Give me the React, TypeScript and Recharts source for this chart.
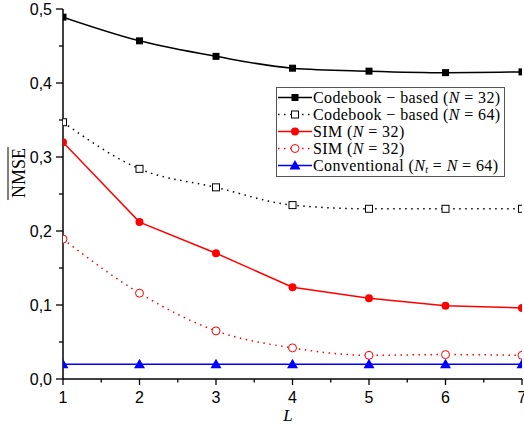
import { Label, Legend, Line, LineChart, XAxis, YAxis } from "recharts";

const L_VALUES = [1, 2, 3, 4, 5, 6, 7];
const codebook32 = [0.489, 0.457, 0.436, 0.42, 0.416, 0.414, 0.415];
const codebook64 = [0.347, 0.284, 0.259, 0.235, 0.23, 0.23, 0.23];
const sim32 = [0.32, 0.212, 0.17, 0.124, 0.109, 0.099, 0.096];
const sim32Dotted = [0.189, 0.116, 0.065, 0.042, 0.032, 0.033, 0.032];
const conventional = [0.02, 0.02, 0.02, 0.02, 0.02, 0.02, 0.02];

const xTicks = [1, 1.5, 2, 2.5, 3, 3.5, 4, 4.5, 5, 5.5, 6, 6.5, 7];
const yTicks = [0, 0.05, 0.1, 0.15, 0.2, 0.25, 0.3, 0.35, 0.4, 0.45, 0.5];

const data = L_VALUES.map((l, i) => ({
  L: l,
  cb32: codebook32[i],
  cb64: codebook64[i],
  sim: sim32[i],
  simDot: sim32Dotted[i],
  conv: conventional[i],
}));

const TICK_FONT = "Arial, 'Liberation Sans', sans-serif";
const SERIF = "'Liberation Serif', 'DejaVu Serif', serif";

const isMajorY = (v: number) => Math.abs(v * 10 - Math.round(v * 10)) < 1e-6;
const fmtY = (v: number) => v.toFixed(1).replace(".", ",");

const LeftTick = (props: any) => {
  const { x, y, payload } = props;
  const axisX = x + 11;
  const major = isMajorY(payload.value);
  return (
    <g>
      <line x1={axisX - (major ? 7 : 4)} x2={axisX} y1={y} y2={y} stroke="#000" strokeWidth={1.3} />
      {major && (
        <text x={x} y={y} dy={5.5} textAnchor="end" fontSize={16} fontFamily={TICK_FONT} fill="#000">
          {fmtY(payload.value)}
        </text>
      )}
    </g>
  );
};

const RightTick = (props: any) => {
  const { x, y, payload } = props;
  const axisX = x + 7;
  const major = isMajorY(payload.value);
  return <line x1={axisX - (major ? 7 : 4)} x2={axisX} y1={y} y2={y} stroke="#000" strokeWidth={1.3} />;
};

const BottomTick = (props: any) => {
  const { x, y, payload } = props;
  const axisY = y - 9;
  const major = Number.isInteger(payload.value);
  return (
    <g>
      <line x1={x} x2={x} y1={axisY} y2={axisY + (major ? 6 : 3.5)} stroke="#000" strokeWidth={1.3} />
      {major && (
        <text x={x} y={axisY + 24} textAnchor="middle" fontSize={16} fontFamily={TICK_FONT} fill="#000">
          {payload.value}
        </text>
      )}
    </g>
  );
};

const TopTick = (props: any) => {
  const { x, y, payload } = props;
  const axisY = y - 6;
  const major = Number.isInteger(payload.value);
  return <line x1={x} x2={x} y1={axisY} y2={axisY + (major ? 6 : 3.5)} stroke="#000" strokeWidth={1.3} />;
};

const FilledSquare = ({ cx, cy, color }: any) => (
  <rect x={cx - 3.5} y={cy - 3.5} width={7} height={7} fill={color} />
);
const OpenSquare = ({ cx, cy, color }: any) => (
  <rect x={cx - 3.5} y={cy - 3.5} width={7} height={7} fill="#fff" stroke={color} strokeWidth={1} />
);
const FilledCircle = ({ cx, cy, color }: any) => <circle cx={cx} cy={cy} r={4} fill={color} />;
const OpenCircle = ({ cx, cy, color }: any) => (
  <circle cx={cx} cy={cy} r={4} fill="#fff" stroke={color} strokeWidth={1} />
);
const Triangle = ({ cx, cy, color }: any) => (
  <path d={`M${cx},${cy - 5.5} L${cx + 5.5},${cy + 4} L${cx - 5.5},${cy + 4} Z`} fill={color} />
);

const series = [
  { key: "cb32", color: "#000", dash: undefined, type: "monotone", Marker: FilledSquare, label: ["Codebook \u2212 based (", "N", " = 32)"] },
  { key: "cb64", color: "#000", dash: "1.5 4.5", type: "monotone", Marker: OpenSquare, label: ["Codebook \u2212 based (", "N", " = 64)"] },
  { key: "sim", color: "#f00", dash: undefined, type: "linear", Marker: FilledCircle, label: ["SIM (", "N", " = 32)"] },
  { key: "simDot", color: "#f00", dash: "1.5 4.5", type: "monotone", Marker: OpenCircle, label: ["SIM (", "N", " = 32)"] },
  { key: "conv", color: "#00f", dash: undefined, type: "linear", Marker: Triangle, label: null },
];

const LegendBox = () => (
  <div
    style={{
      border: "1px solid #555",
      background: "#fff",
      padding: "1px 3px 2px 0",
      fontFamily: SERIF,
      fontSize: 16,
      letterSpacing: 0.4,
      lineHeight: "17px",
      color: "#000",
      whiteSpace: "nowrap",
    }}
  >
    {series.map((s) => (
      <div key={s.key} style={{ display: "flex", alignItems: "center", height: 17 }}>
        <svg width={36} height={17} style={{ flexShrink: 0 }}>
          <line x1={1} x2={35} y1={8.5} y2={8.5} stroke={s.color} strokeWidth={1.5} strokeDasharray={s.dash} />
          <s.Marker cx={18} cy={8.5} color={s.color} />
        </svg>
        <span>
          {s.label ? (
            <>
              {s.label[0]}
              <i>{s.label[1]}</i>
              {s.label[2]}
            </>
          ) : (
            <>
              Conventional (<i>N</i>
              <span style={{ fontSize: 10, fontStyle: "italic", position: "relative", top: 2, lineHeight: "10px" }}>t</span> = <i>N</i> = 64)
            </>
          )}
        </span>
      </div>
    ))}
  </div>
);

const YTitle = () => (
  <g>
    <text
      x={0}
      y={0}
      transform="translate(25,173) rotate(-90)"
      textAnchor="middle"
      fontFamily={SERIF}
      fontSize={18}
      fill="#000"
    >
      NMSE
    </text>
    <line x1={8} x2={8} y1={147} y2={200} stroke="#000" strokeWidth={1} />
  </g>
);

export default function App() {
  return (
    <div style={{ width: 524, height: 426 }}>
      <style>{`body{margin:0}`}</style>
      <LineChart width={524} height={426} data={data} margin={{ top: 9, right: 2, left: 0, bottom: 0 }}>
        <XAxis
          dataKey="L"
          type="number"
          domain={[1, 7]}
          ticks={xTicks}
          allowDataOverflow
          height={47}
          tickSize={5}
          tickMargin={4}
          tickLine={false}
          tick={<BottomTick />}
          axisLine={{ stroke: "#000", strokeWidth: 1.5 }}
          interval={0}
        >
          <Label
            content={() => (
              <text x={288} y={421} textAnchor="middle" fontFamily={SERIF} fontStyle="italic" fontSize={17} fill="#000">
                L
              </text>
            )}
          />
        </XAxis>
        <XAxis
          xAxisId="top"
          orientation="top"
          type="number"
          dataKey="L"
          domain={[1, 7]}
          ticks={xTicks}
          height={0}
          mirror
          tickSize={6}
          tickMargin={0}
          tickLine={false}
          tick={<TopTick />}
          axisLine={{ stroke: "#000", strokeWidth: 1.5 }}
          interval={0}
        />
        <YAxis
          type="number"
          domain={[0, 0.5]}
          ticks={yTicks}
          width={63}
          tickSize={7}
          tickMargin={4}
          tickLine={false}
          tick={<LeftTick />}
          axisLine={{ stroke: "#000", strokeWidth: 1.5 }}
          interval={0}
        >
          <Label content={() => <YTitle />} />
        </YAxis>
        <YAxis
          yAxisId="right"
          orientation="right"
          type="number"
          domain={[0, 0.5]}
          ticks={yTicks}
          width={0}
          mirror
          tickSize={7}
          tickMargin={0}
          tickLine={false}
          tick={<RightTick />}
          axisLine={{ stroke: "#000", strokeWidth: 1.5 }}
          interval={0}
        />
        <Legend
          layout="vertical"
          align="center"
          verticalAlign="middle"
          content={() => <LegendBox />}
          wrapperStyle={{ position: "absolute", left: 276, top: 87, width: "auto" }}
        />
        {series.map((s) => (
          <Line
            key={s.key}
            dataKey={s.key}
            type={s.type as any}
            stroke={s.color}
            strokeWidth={1.5}
            strokeDasharray={s.dash}
            dot={(p: any) => <s.Marker key={`${s.key}-${p.index}`} cx={p.cx} cy={p.cy} color={s.color} />}
            activeDot={false}
            isAnimationActive={false}
          />
        ))}
      </LineChart>
    </div>
  );
}
